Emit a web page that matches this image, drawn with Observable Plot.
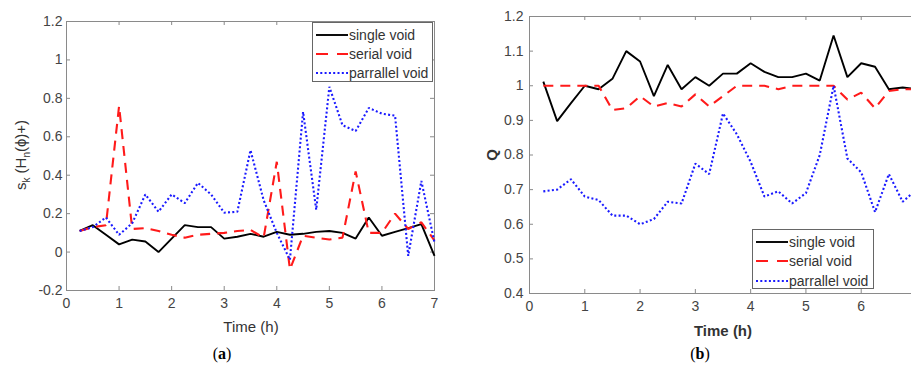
<!DOCTYPE html>
<html>
<head>
<meta charset="utf-8">
<script src="https://cdn.jsdelivr.net/npm/d3@7"></script>
<script src="https://cdn.jsdelivr.net/npm/@observablehq/plot@0.6"></script>
<style>
  html, body { margin: 0; padding: 0; background: #fff; }
  #wrap { position: relative; width: 911px; height: 365px; overflow: hidden; background: #fff; font-family: "Liberation Sans", Arial, sans-serif; }
  .panel { position: absolute; top: 0; }
  .lbl { position: absolute; color: #333; white-space: nowrap; }
  .legend { position: absolute; background: #fff; border: 1px solid #666; box-sizing: border-box; }
  .legend .row { position: absolute; left: 0; height: 18px; display: flex; align-items: center; font-size: 14px; color: #333; }
  .legend svg { display: block; }
  .cap { position: absolute; font-family: "Liberation Serif", "Times New Roman", serif; font-size: 16px; color: #000; transform: translate(-50%, -50%); }
</style>
</head>
<body>
<div id="wrap"></div>
<script>
// ---------- data ----------
const times = [0.25,0.5,0.75,1,1.25,1.5,1.75,2,2.25,2.5,2.75,3,3.25,3.5,3.75,4,4.25,4.5,4.75,5,5.25,5.5,5.75,6,6.25,6.5,6.75,7];
const seriesNames = ["single void", "serial void", "parrallel void"];

// panel (a): s_k (H_n(phi)+)
const aSingle   = [0.11,0.14,0.09,0.04,0.065,0.055,0.0,0.07,0.14,0.13,0.13,0.07,0.08,0.095,0.08,0.105,0.09,0.095,0.105,0.11,0.10,0.07,0.18,0.085,0.105,0.125,0.145,-0.02];
const aSerial   = [0.11,0.13,0.14,0.76,0.12,0.125,0.11,0.09,0.075,0.09,0.095,0.10,0.11,0.115,0.075,0.47,-0.09,0.085,0.075,0.065,0.075,0.42,0.10,0.10,0.20,0.12,0.155,0.06];
const aParallel = [0.11,0.13,0.18,0.09,0.15,0.30,0.21,0.30,0.255,0.36,0.30,0.205,0.21,0.53,0.27,0.10,-0.04,0.73,0.22,0.86,0.66,0.63,0.75,0.72,0.71,-0.02,0.37,0.05];

// panel (b): Q
const bSingle   = [1.012,0.898,0.95,1.0,0.99,1.02,1.10,1.07,0.97,1.06,0.99,1.025,1.0,1.035,1.035,1.065,1.04,1.025,1.025,1.035,1.015,1.145,1.025,1.065,1.055,0.99,0.995,0.99];
const bSerial   = [1.0,1.0,1.0,1.0,1.0,0.93,0.935,0.97,0.94,0.95,0.94,0.975,0.94,0.97,1.0,1.0,1.0,0.99,1.0,1.0,1.0,1.0,0.96,0.98,0.935,0.985,0.99,0.99];
const bParallel = [0.695,0.70,0.73,0.68,0.67,0.625,0.625,0.60,0.615,0.665,0.66,0.775,0.745,0.92,0.86,0.78,0.68,0.695,0.66,0.69,0.80,1.0,0.79,0.75,0.635,0.745,0.665,0.70];

const xTicksA = [0,1,2,3,4,5,6,7];
const xTicksB = [0,1,2,3,4,5,6];   // the 7 of panel (b) lies beyond the cropped right edge
const yTicksA = [-0.2,0,0.2,0.4,0.6,0.8,1,1.2];
const yTicksB = [0.4,0.5,0.6,0.7,0.8,0.9,1,1.1,1.2];

// ---------- styles ----------
const styles = [
  {stroke: "#000", strokeWidth: 1.9, dash: null},
  {stroke: "#ff1a1a", strokeWidth: 2.1, dash: "10,7"},
  {stroke: "#1a1aff", strokeWidth: 2.1, dash: "2,2.3"}
];

function toRows(arrs) {
  return arrs.map((vals, i) => times.map((t, j) => ({t, v: vals[j], s: seriesNames[i]})));
}

function fmt(d) { return String(+d.toFixed(1)); }

function makePanel({width, height, ml, mr, mt, mb, ydom, yticks, xticks, arrs, ypad}) {
  const rows = toRows(arrs);
  const H = height - mt - mb;
  const W = width - ml - mr;
  const marks = [
    Plot.frame({stroke: "#8a8a8a", strokeWidth: 1}),
    // inward ticks on all four sides
    Plot.ruleX(xticks, {x: d => d, insetTop: H - 4, stroke: "#8a8a8a"}),
    Plot.ruleX(xticks, {x: d => d, insetBottom: H - 4, stroke: "#8a8a8a"}),
    Plot.ruleY(yticks, {y: d => d, insetRight: W - 4, stroke: "#8a8a8a"}),
    Plot.ruleY(yticks, {y: d => d, insetLeft: W - 4, stroke: "#8a8a8a"}),
    Plot.axisX(xticks, {tickSize: 0, tickPadding: 8, fontSize: 14, fill: "#444", tickFormat: d => String(d), label: null}),
    Plot.axisY(yticks, {tickSize: 0, tickPadding: ypad, fontSize: 14, fill: "#444", tickFormat: fmt, label: null})
  ];
  rows.forEach((r, i) => {
    const s = styles[i];
    marks.push(Plot.line(r, {x: "t", y: "v", stroke: s.stroke, strokeWidth: s.strokeWidth,
      strokeDasharray: s.dash || undefined, strokeLinejoin: "miter", strokeLinecap: "butt"}));
  });
  return Plot.plot({
    width, height,
    marginLeft: ml, marginRight: mr, marginTop: mt, marginBottom: mb,
    x: {domain: [0, 7]},
    y: {domain: ydom},
    style: {fontFamily: "'Liberation Sans', Arial, sans-serif", background: "transparent", overflow: "visible"},
    marks
  });
}

const wrap = document.getElementById("wrap");

// Panel (a)
const pa = makePanel({width: 455, height: 340, ml: 66, mr: 21, mt: 21, mb: 50,
  ydom: [-0.2, 1.2], yticks: yTicksA, xticks: xTicksA, arrs: [aSingle, aSerial, aParallel], ypad: 4});
pa.classList.add("panel");
pa.style.left = "0px";
wrap.appendChild(pa);

// Panel (b) — extends past right edge of window (clipped like the reference)
const pb = makePanel({width: 480, height: 340, ml: 73, mr: 20, mt: 16, mb: 47,
  ydom: [0.4, 1.2], yticks: yTicksB, xticks: xTicksB, arrs: [bSingle, bSerial, bParallel], ypad: 6});
pb.classList.add("panel");
pb.style.left = "456px";
wrap.appendChild(pb);

function addLabel(html, x, y, opts = {}) {
  const d = document.createElement("div");
  d.className = "lbl";
  d.innerHTML = html;
  d.style.left = x + "px";
  d.style.top = y + "px";
  d.style.fontSize = (opts.size || 15) + "px";
  if (opts.bold) d.style.fontWeight = "bold";
  d.style.transform = "translate(-50%, -50%)" + (opts.rotate ? " rotate(-90deg)" : "");
  wrap.appendChild(d);
}

addLabel("Time (h)", 251, 326, {size: 15});
addLabel("s<sub style='font-size:10px'>k</sub> (H<sub style='font-size:10px'>n</sub>(&#981;)+)", 22, 155, {size: 15, rotate: true});
addLabel("Time (h)", 723, 330, {size: 15, bold: true});
addLabel("Q", 491, 155, {size: 15, bold: true, rotate: true});

function addLegend(left, top, width, rowYs, sampleW) {
  const lg = document.createElement("div");
  lg.className = "legend";
  lg.style.left = left + "px";
  lg.style.top = top + "px";
  lg.style.width = width + "px";
  lg.style.height = "60px";
  seriesNames.forEach((name, i) => {
    const s = styles[i];
    const row = document.createElement("div");
    row.className = "row";
    row.style.top = (rowYs[i] - 9) + "px";
    const dash = i === 1 ? "12,9" : (i === 2 ? "2,2.3" : "none");
    row.innerHTML = `<svg width="${sampleW + 4}" height="18"><line x1="3" x2="${sampleW + 3}" y1="9" y2="9" stroke="${s.stroke}" stroke-width="${s.strokeWidth}" stroke-dasharray="${dash}"/></svg><span>${name}</span>`;
    lg.appendChild(row);
  });
  wrap.appendChild(lg);
}

addLegend(312, 22, 121, [12, 31, 50], 32);
addLegend(752, 229, 122, [12, 31, 51], 32);

function addCaption(letter, x, y) {
  const d = document.createElement("div");
  d.className = "cap";
  d.innerHTML = `(<b>${letter}</b>)`;
  d.style.left = x + "px";
  d.style.top = y + "px";
  wrap.appendChild(d);
}
addCaption("a", 222, 354);
addCaption("b", 700, 354);
</script>
</body>
</html>
